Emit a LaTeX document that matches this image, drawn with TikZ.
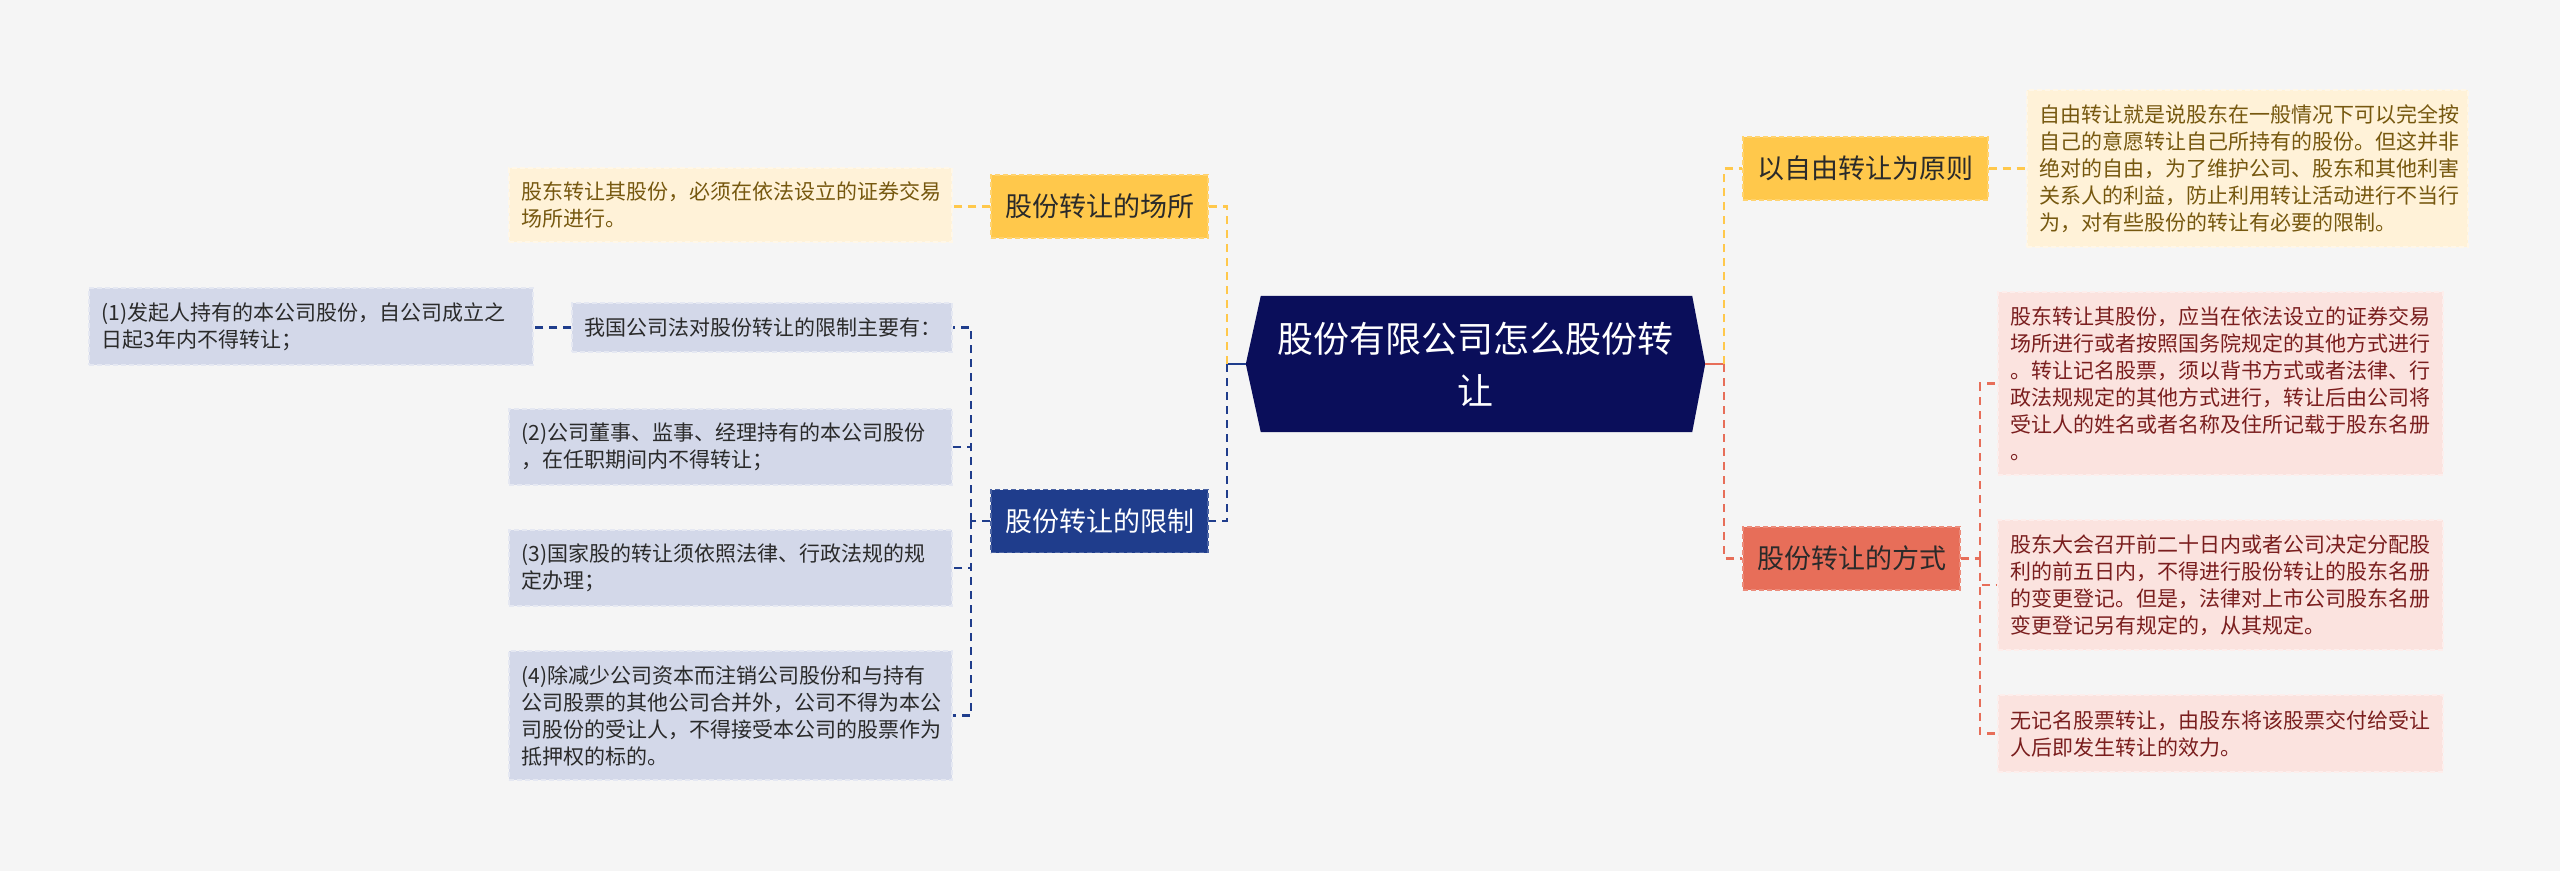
\documentclass[tikz,border=0pt]{standalone}
\usepackage{fontspec}
\setmainfont{Noto Sans CJK SC}
\usetikzlibrary{backgrounds}
\definecolor{bg}{HTML}{F5F5F5}
\definecolor{hubc}{HTML}{0A0E5A}
\definecolor{ylw}{HTML}{FFC84B}
\definecolor{ylwleaf}{HTML}{FFF2D8}
\definecolor{ylwtxt}{HTML}{76580F}
\definecolor{blu}{HTML}{1F3D8C}
\definecolor{bluleaf}{HTML}{D3D8E9}
\definecolor{rd}{HTML}{E76E59}
\definecolor{rdleaf}{HTML}{FBE3DF}
\definecolor{rdtxt}{HTML}{7A1E1E}
\definecolor{ink}{HTML}{2A2A2A}
\begin{document}
\begin{tikzpicture}[x=1pt,y=-1pt,
  base/.style={inner sep=0pt,align=left,line width=1.2pt,dash pattern=on 5pt off 3pt},
  topic/.style={base,font=\fontsize{27}{32}\selectfont,minimum height=63pt},
  leaf/.style={base,inner xsep=12.5pt,font=\fontsize{21}{27}\selectfont},
  ytopic/.style={topic,fill=ylw,draw=ylw!80!white,text=ink},
  btopic/.style={topic,fill=blu,draw=blu!80!white,text=white},
  rtopic/.style={topic,fill=rd,draw=rd!80!white,text=ink},
  yleaf/.style={leaf,fill=ylwleaf,draw=ylwleaf!60!white,text=ylwtxt},
  bleaf/.style={leaf,fill=bluleaf,draw=bluleaf!60!white,text=ink},
  rleaf/.style={leaf,fill=rdleaf,draw=rdleaf!60!white,text=rdtxt},
  link/.style={line width=2.5pt,dash pattern=on 8pt off 6pt},
  ylink/.style={link,draw=ylw},
  blink/.style={link,draw=blu},
  rlink/.style={link,draw=rd}]
\useasboundingbox (0,0) rectangle (2560,871);
\node[inner sep=0pt,minimum width=459pt,minimum height=136pt,align=center,text=white,font=\fontsize{36}{52}\selectfont] (hub) at (1475.5,364) {股份有限公司怎么股份转\\让};
\begin{scope}[on background layer]
\fill[bg] (0,0) rectangle (2560,871);
\fill[hubc] (hub.west)--([xshift=15pt]hub.north west)--([xshift=-13pt]hub.north east)--(hub.east)--([xshift=-13pt]hub.south east)--([xshift=15pt]hub.south west)--cycle;
\end{scope}
\node[ytopic,minimum width=217pt] (place) at (1099.5,206.5) {股份转让的场所};
\node[btopic,minimum width=217pt] (limit) at (1099.5,521) {股份转让的限制};
\node[ytopic,minimum width=245pt] (free) at (1865.5,168.5) {以自由转让为原则};
\node[rtopic,minimum width=217pt] (mode) at (1851.5,558.5) {股份转让的方式};
\node[yleaf,text width=418pt,minimum height=74pt] (placeleaf) at (730.5,205) {股东转让其股份，必须在依法设立的证券交易\\场所进行。};
\node[bleaf,text width=355pt,minimum height=49pt] (law) at (762,327.5) {我国公司法对股份转让的限制主要有：};
\node[bleaf,text width=419pt,minimum height=77pt] (r1) at (311,326.5) {(1)发起人持有的本公司股份，自公司成立之\\日起3年内不得转让；};
\node[bleaf,text width=418pt,minimum height=76pt] (r2) at (730.5,447) {(2)公司董事、监事、经理持有的本公司股份\\，在任职期间内不得转让；};
\node[bleaf,text width=418pt,minimum height=76pt] (r3) at (730.5,568) {(3)国家股的转让须依照法律、行政法规的规\\定办理；};
\node[bleaf,text width=418pt,minimum height=129pt] (r4) at (730.5,715.5) {(4)除减少公司资本而注销公司股份和与持有\\公司股票的其他公司合并外，公司不得为本公\\司股份的受让人，不得接受本公司的股票作为\\抵押权的标的。};
\node[yleaf,text width=416pt,minimum height=157pt] (freeleaf) at (2247.5,168.5) {自由转让就是说股东在一般情况下可以完全按\\自己的意愿转让自己所持有的股份。但这并非\\绝对的自由，为了维护公司、股东和其他利害\\关系人的利益，防止利用转让活动进行不当行\\为，对有些股份的转让有必要的限制。};
\node[rleaf,text width=420pt,minimum height=183pt] (m1) at (2220.5,383.5) {股东转让其股份，应当在依法设立的证券交易\\场所进行或者按照国务院规定的其他方式进行\\。转让记名股票，须以背书方式或者法律、行\\政法规规定的其他方式进行，转让后由公司将\\受让人的姓名或者名称及住所记载于股东名册\\。};
\node[rleaf,text width=420pt,minimum height=130pt] (m2) at (2220.5,585) {股东大会召开前二十日内或者公司决定分配股\\利的前五日内，不得进行股份转让的股东名册\\的变更登记。但是，法律对上市公司股东名册\\变更登记另有规定的，从其规定。};
\node[rleaf,text width=420pt,minimum height=77pt] (m3) at (2220.5,733.5) {无记名股票转让，由股东将该股票交付给受让\\人后即发生转让的效力。};
\coordinate (hl) at (1227,364);
\coordinate (hr) at (1724,364);
\coordinate (bl) at (971,521);
\coordinate (mr) at (1980,558.5);
\draw[blu,line width=2.5pt] (hub.west)--(hl);
\draw[rd,line width=2.5pt] (hub.east)--(hr);
\draw[ylink] (hl) |- (place.east);
\draw[blink] (hl) |- (limit.east);
\draw[ylink] (place.west)--(place.west-|placeleaf.east);
\draw[blink] (limit.west)--(bl);
\foreach \n in {law,r2,r3,r4}{\draw[blink] (bl) |- (\n.east);}
\draw[blink] (law.west)--(law.west-|r1.east);
\draw[ylink] (hr) |- (free.west);
\draw[rlink] (hr) |- (mode.west);
\draw[ylink] (free.east)--(free.east-|freeleaf.west);
\draw[rlink] (mode.east)--(mr);
\foreach \n in {m1,m2,m3}{\draw[rlink] (mr) |- (\n.west);}
\end{tikzpicture}
\end{document}
